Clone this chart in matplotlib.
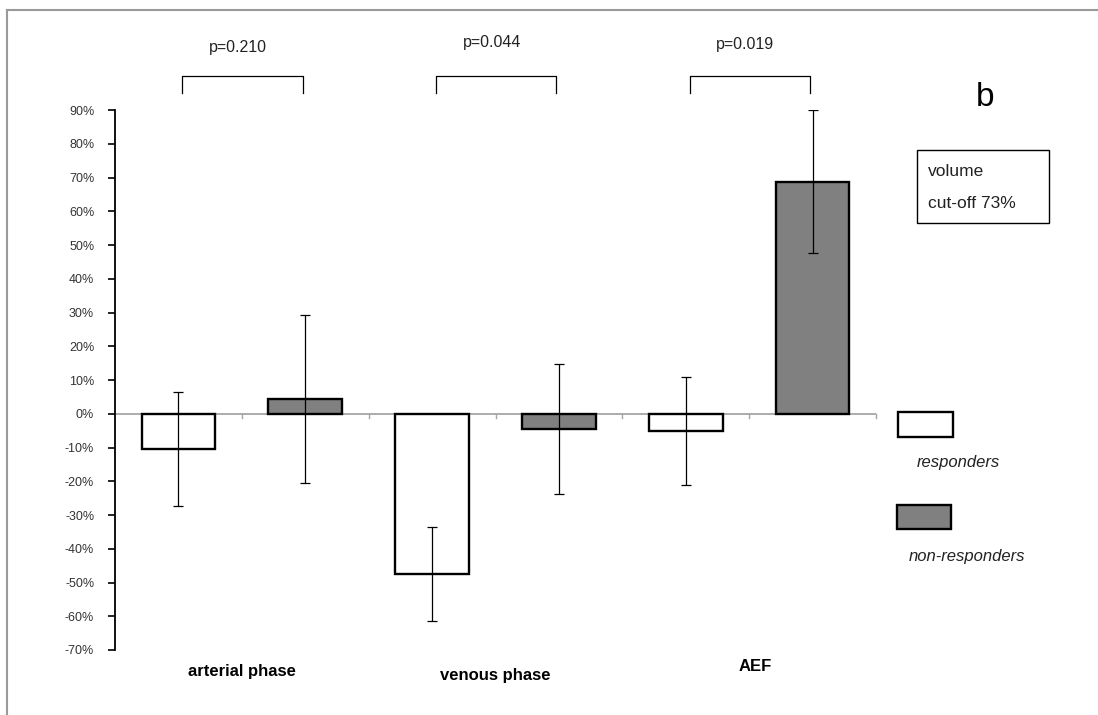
import matplotlib
matplotlib.use("Agg")
import matplotlib.pyplot as plt
from matplotlib.patches import Rectangle
from matplotlib.lines import Line2D
from matplotlib.ticker import FuncFormatter
import numpy as np

plt.rcParams['font.family'] = ['Liberation Sans', 'DejaVu Sans']

categories = ["arterial phase", "venous phase", "AEF"]
responders = [-0.105, -0.475, -0.05]
responders_sd = [0.168, 0.139, 0.16]
non_responders = [0.043, -0.045, 0.688]
non_responders_sd = [0.249, 0.192, 0.211]
p_values = ["p=0.210", "p=0.044", "p=0.019"]
yticks = np.arange(-0.7, 0.91, 0.1)

W, H = 1098, 715
fig = plt.figure(figsize=(W / 100, H / 100), dpi=100)
fig.patch.set_facecolor("white")

# axes placement in pixels
x_left, x_right = 115, 876
y_top, y_bot = 110, 650
ax = fig.add_axes([x_left / W, 1 - y_bot / H, (x_right - x_left) / W, (y_bot - y_top) / H])

n = len(categories)
pos_r = np.arange(n) * 2
pos_n = np.arange(n) * 2 + 1
bw = 0.58

ax.bar(pos_r, responders, width=bw, color="white", edgecolor="black", linewidth=1.7, zorder=3)
ax.bar(pos_n, non_responders, width=bw, color="#808080", edgecolor="black", linewidth=1.7, zorder=3)
ax.errorbar(pos_r, responders, yerr=responders_sd, fmt="none", ecolor="black",
            elinewidth=0.9, capsize=3.6, capthick=0.9, zorder=4)
ax.errorbar(pos_n, non_responders, yerr=non_responders_sd, fmt="none", ecolor="black",
            elinewidth=0.9, capsize=3.6, capthick=0.9, zorder=4)

ax.set_xlim(-0.5, 2 * n - 0.5)
ax.set_ylim(-0.70, 0.90)

# zero line with category boundary ticks
ax.axhline(0, color="#a6a6a6", linewidth=1.3, zorder=2)
for b in np.arange(0.5, 2 * n, 1.0):
    ax.plot([b, b], [0, -0.014], color="#a6a6a6", linewidth=1.0, zorder=2, clip_on=False)

for s in ["top", "right", "bottom"]:
    ax.spines[s].set_visible(False)
ax.spines["left"].set_linewidth(1.3)
ax.spines["left"].set_color("black")
ax.set_xticks([])
ax.set_yticks(yticks)
ax.yaxis.set_major_formatter(FuncFormatter(lambda v, _: f"{int(round(v*100))}%"))
ax.tick_params(axis="y", direction="out", length=5, width=1.2, labelsize=9, labelcolor="#333333", pad=10)

# category labels
label_x = [0.5, 2.5, 4.55]
label_y = [-0.765, -0.775, -0.748]
for lx, ly, name in zip(label_x, label_y, categories):
    ax.text(lx, ly, name, ha="center", va="center", fontsize=12, fontweight="bold", clip_on=False)

# significance brackets
p_text_y = [1.085, 1.10, 1.095]
for i in range(n):
    x0, x1 = pos_r[i] + 0.03, pos_n[i] - 0.02
    ax.plot([x0, x0, x1, x1], [0.95, 1.0, 1.0, 0.95], color="black", linewidth=0.9, clip_on=False)
    ax.text(i * 2 + 0.47, p_text_y[i], p_values[i], ha="center", va="center", fontsize=11.5,
            color="#222222", clip_on=False)

# panel label
fig.text(985 / W, 1 - 97 / H, "b", ha="center", va="center", fontsize=24)

# info box
fig.patches.append(Rectangle((917 / W, 1 - 223 / H), (1049 - 917) / W, (223 - 150) / H,
                             transform=fig.transFigure, facecolor="white", edgecolor="black", linewidth=1.0))
fig.text(928 / W, 1 - 172 / H, "volume", ha="left", va="center", fontsize=12.5, color="#222222")
fig.text(928 / W, 1 - 203 / H, "cut-off 73%", ha="left", va="center", fontsize=12.5, color="#222222")

# legend
fig.patches.append(Rectangle((898 / W, 1 - 437 / H), 55 / W, 25 / H, transform=fig.transFigure,
                             facecolor="white", edgecolor="black", linewidth=1.7))
fig.patches.append(Rectangle((897 / W, 1 - 529 / H), 54 / W, 24 / H, transform=fig.transFigure,
                             facecolor="#808080", edgecolor="black", linewidth=1.7))
fig.text(958 / W, 1 - 462 / H, "responders", ha="center", va="center", fontsize=12, style="italic", color="#222222")
fig.text(967 / W, 1 - 557 / H, "non-responders", ha="center", va="center", fontsize=12, style="italic", color="#222222")

# outer frame lines (top and left)
fig.add_artist(Line2D([7 / W, 1.0], [1 - 10 / H, 1 - 10 / H], transform=fig.transFigure, color="#9a9a9a", linewidth=1.5))
fig.add_artist(Line2D([7 / W, 7 / W], [0, 1 - 10 / H], transform=fig.transFigure, color="#9a9a9a", linewidth=1.5))

fig.savefig("out.png", dpi=100, facecolor="white")
